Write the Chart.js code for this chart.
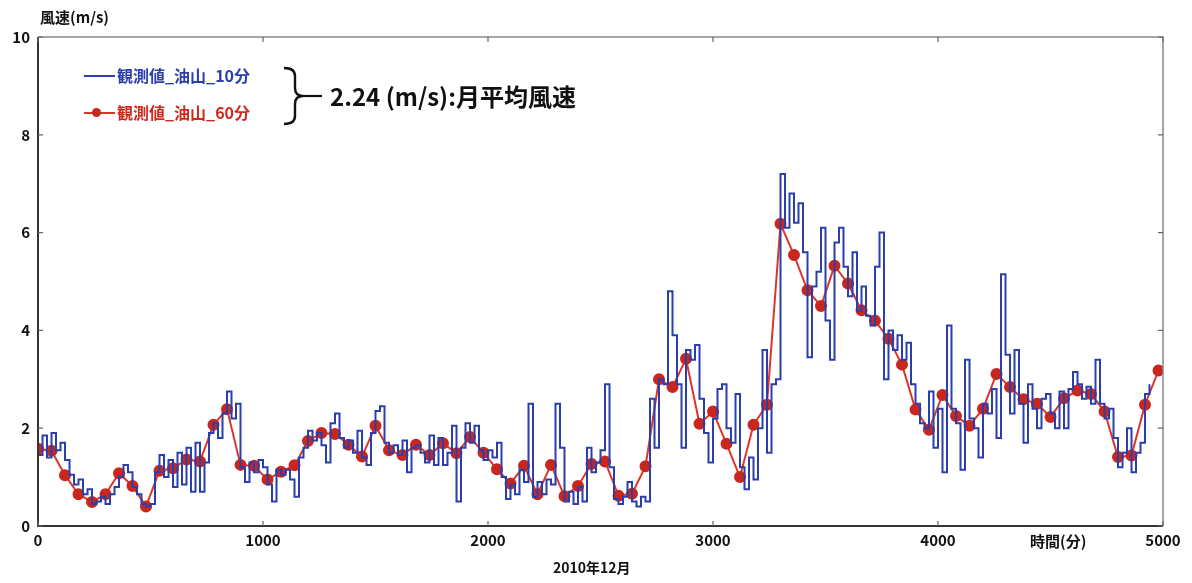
<!DOCTYPE html>
<html>
<head>
<meta charset="utf-8">
<script src="https://cdn.jsdelivr.net/npm/chart.js@4.4.0/dist/chart.umd.min.js"></script>
<style>
html, body { margin: 0; padding: 0; background: #fff; }
#wrap { position: relative; width: 1192px; height: 583px; }
canvas { position: absolute; left: 0; top: 0; }
.t { position: absolute; font-family: "Noto Sans CJK JP", sans-serif; font-weight: bold; white-space: nowrap; line-height: 1; }
</style>
</head>
<body>
<div id="wrap">
  <canvas id="myChart" width="1192" height="583"></canvas>
  <div class="t" style="left:40px;top:9px;font-size:15px;color:#111;">風速(m/s)</div>

  <div style="position:absolute;left:84px;top:75px;width:31px;height:2px;background:#2b3ead;"></div>
  <div class="t" style="left:117px;top:67px;font-size:16px;color:#2b3ead;">観測値_油山_10分</div>
  <div style="position:absolute;left:84px;top:112px;width:31px;height:2px;background:#d8372a;"></div>
  <div style="position:absolute;left:92px;top:108px;width:9px;height:9px;border-radius:50%;background:#c9271d;"></div>
  <div class="t" style="left:117px;top:104px;font-size:16px;color:#d02a1f;">観測値_油山_60分</div>

  <svg style="position:absolute;left:278px;top:60px;" width="48" height="70">
    <path d="M6 8 Q17 8 17 16 L17 28 Q17 36 25 36 Q17 36 17 44 L17 56 Q17 64 6 64" fill="none" stroke="#111" stroke-width="2.4"/>
    <line x1="25" y1="36" x2="44" y2="36" stroke="#111" stroke-width="2.2"/>
  </svg>
  <div class="t" style="left:330px;top:84px;font-size:24px;color:#111;">2.24 (m/s):月平均風速</div>

  <div class="t" style="left:1030px;top:533px;font-size:15px;color:#111;">時間(分)</div>
  <div class="t" style="left:553px;top:560px;font-size:14px;color:#111;">2010年12月</div>
</div>

<script>
// 10分値 (20分刻みで読み取り)
var blueStep = 20;
var blueValues = [
  1.45, 1.85, 1.4, 1.9, 1.55, 1.7, 1.35, 1.05, 0.85, 0.95,
  0.65, 0.75, 0.45, 0.5, 0.6, 0.45, 0.65, 0.8, 1.0, 1.25,
  1.1, 0.8, 0.65, 0.45, 0.4, 0.45, 1.1, 1.45, 1.0, 1.35,
  0.8, 1.5, 0.85, 1.6, 0.7, 1.7, 0.7, 1.3, 1.9, 2.1,
  1.8, 2.3, 2.75, 2.2, 2.5, 1.2, 0.9, 1.3, 1.1, 1.35,
  1.2, 0.85, 0.5, 1.15, 1.05, 1.15, 0.95, 0.6, 1.4, 1.6,
  1.95, 1.75, 1.9, 1.65, 1.3, 2.1, 2.3, 1.8, 1.6, 1.75,
  1.5, 1.95, 1.4, 1.25, 1.9, 2.35, 2.45, 1.7, 1.5, 1.65,
  1.45, 1.75, 1.1, 1.6, 1.65, 1.5, 1.3, 1.85, 1.25, 1.8,
  1.25, 1.5, 2.05, 0.5, 1.6, 2.1, 1.7, 2.05, 1.55, 1.35,
  1.55, 1.4, 1.7, 1.0, 0.55, 0.85, 0.65, 1.15, 0.9, 2.5,
  0.6, 0.9, 0.65, 0.95, 0.85, 2.5, 1.6, 0.5, 0.7, 0.45,
  0.8, 0.5, 1.6, 1.1, 1.3, 1.55, 2.9, 1.2, 0.55, 0.45,
  0.6, 0.9, 0.5, 0.4, 0.6, 0.5, 2.6, 1.6, 3.0, 2.9,
  4.8, 3.9, 2.9, 1.6, 3.6, 3.4, 3.7, 2.6, 1.9, 1.3,
  2.2, 2.8, 2.9, 2.0, 1.7, 2.7, 1.2, 0.75, 1.4, 0.95,
  2.0, 3.6, 1.5, 2.9, 3.0, 7.2, 6.1, 6.8, 6.2, 6.6,
  5.6, 3.45, 4.9, 5.2, 6.1, 4.2, 3.4, 5.8, 6.1, 5.3,
  4.7, 5.6, 4.4, 4.9, 4.3, 4.1, 5.3, 6.0, 3.0, 4.0,
  3.6, 3.9, 3.4, 3.75, 2.9, 2.5, 2.1, 2.0, 2.75, 1.6,
  2.4, 1.1, 4.1, 2.4, 2.1, 1.15, 3.4, 2.2, 2.0, 1.4,
  2.5, 2.3, 2.8, 1.8, 5.15, 3.5, 2.3, 3.6, 2.5, 1.7,
  2.9, 2.4, 2.0, 2.6, 2.7, 2.3, 2.0, 2.75, 2.0, 2.8,
  3.15, 2.9, 2.6, 2.85, 2.5, 3.4, 2.5, 2.2, 2.4, 1.8,
  1.2, 1.5, 2.0, 1.1, 1.5, 1.7, 2.7, 2.9
];

// 60分値
var redStep = 60;
var redValues = [
  1.58, 1.54, 1.04, 0.65, 0.49, 0.65, 1.08, 0.82, 0.40, 1.13,
  1.18, 1.36, 1.32, 2.07, 2.39, 1.25, 1.23, 0.95, 1.11, 1.24,
  1.74, 1.90, 1.88, 1.66, 1.42, 2.05, 1.55, 1.45, 1.66, 1.45,
  1.69, 1.49, 1.82, 1.50, 1.16, 0.87, 1.23, 0.65, 1.25, 0.61,
  0.82, 1.27, 1.32, 0.62, 0.66, 1.22, 3.00, 2.84, 3.42, 2.09,
  2.34, 1.68, 1.00, 2.07, 2.48, 6.18, 5.54, 4.82, 4.50, 5.32,
  4.96, 4.41, 4.20, 3.83, 3.30, 2.38, 1.97, 2.68, 2.25, 2.05,
  2.40, 3.11, 2.84, 2.59, 2.50, 2.23, 2.61, 2.77, 2.70, 2.34,
  1.41, 1.44, 2.48, 3.18
];

var xTicks = [0, 1000, 2000, 3000, 4000, 5000];
var yTicks = [0, 2, 4, 6, 8, 10];

var blueData = blueValues.map(function(v, i) { return { x: i * blueStep, y: v }; });
var redData = redValues.map(function(v, i) { return { x: i * redStep, y: v }; });

var tickFont = { family: '"Noto Sans CJK JP", sans-serif', size: 15, weight: 'bold' };

// 枠と内向きの目盛り
var framePlugin = {
  id: 'frame',
  afterDatasetsDraw: function(chart) {
    var c = chart.ctx, a = chart.chartArea;
    var xs = chart.scales.x, ys = chart.scales.y;
    c.save();
    c.strokeStyle = '#888';
    c.lineWidth = 1.5;
    c.beginPath();
    c.moveTo(a.left, a.top); c.lineTo(a.right, a.top); c.lineTo(a.right, a.bottom);
    c.stroke();
    c.strokeStyle = '#333';
    c.lineWidth = 2;
    c.beginPath();
    c.moveTo(a.left, a.top); c.lineTo(a.left, a.bottom); c.lineTo(a.right, a.bottom);
    c.stroke();
    c.lineWidth = 1.2;
    c.strokeStyle = '#666';
    xTicks.forEach(function(t) {
      var px = xs.getPixelForValue(t);
      c.beginPath();
      c.moveTo(px, a.bottom); c.lineTo(px, a.bottom - 5);
      c.moveTo(px, a.top); c.lineTo(px, a.top + 5);
      c.stroke();
    });
    yTicks.forEach(function(t) {
      var py = ys.getPixelForValue(t);
      c.beginPath();
      c.moveTo(a.left, py); c.lineTo(a.left + 5, py);
      c.moveTo(a.right, py); c.lineTo(a.right - 5, py);
      c.stroke();
    });
    c.restore();
  }
};

var ctx = document.getElementById('myChart').getContext('2d');
var chart = new Chart(ctx, {
  type: 'line',
  data: {
    datasets: [{
      label: '観測値_油山_10分',
      data: blueData,
      borderColor: '#2b3ead',
      borderWidth: 2,
      pointRadius: 0,
      stepped: true,
      fill: false
    }, {
      label: '観測値_油山_60分',
      data: redData,
      borderColor: '#d8372a',
      borderWidth: 2,
      pointRadius: 5,
      pointBackgroundColor: '#c9271d',
      pointBorderColor: '#c9271d',
      fill: false,
      tension: 0
    }]
  },
  options: {
    responsive: false,
    animation: false,
    layout: { padding: { left: 0, top: 37, right: 29, bottom: 0 } },
    plugins: { legend: { display: false }, tooltip: { enabled: false } },
    scales: {
      x: {
        type: 'linear',
        min: 0,
        max: 5000,
        afterBuildTicks: function(s) { s.ticks = xTicks.map(function(v) { return { value: v }; }); },
        ticks: { color: '#111', font: tickFont, padding: 5, maxRotation: 0,
                 callback: function(v) { return String(v); } },
        grid: { display: false, drawTicks: false },
        border: { display: false },
        afterFit: function(s) { s.height = 57; }
      },
      y: {
        min: 0,
        max: 10,
        afterBuildTicks: function(s) { s.ticks = yTicks.map(function(v) { return { value: v }; }); },
        ticks: { color: '#111', font: tickFont, padding: 8,
                 callback: function(v) { return String(v); } },
        grid: { display: false, drawTicks: false },
        border: { display: false },
        afterFit: function(s) { s.width = 38; }
      }
    }
  },
  plugins: [framePlugin]
});
</script>
</body>
</html>
